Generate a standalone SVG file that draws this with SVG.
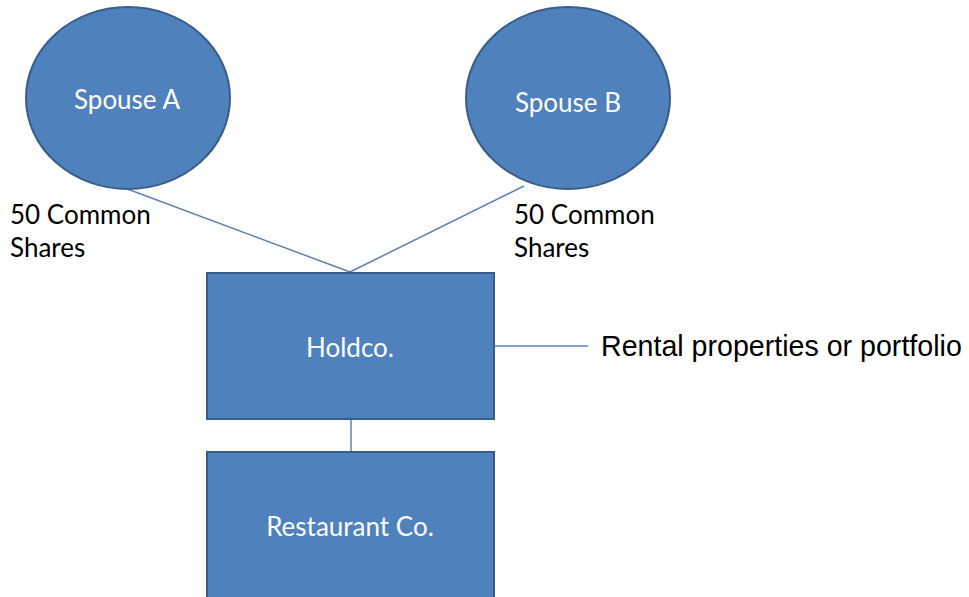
<svg xmlns="http://www.w3.org/2000/svg" width="969" height="597" viewBox="0 0 969 597">
  <style>
    .shape { fill: #4f81bd; stroke: #385d8a; stroke-width: 2; }
    .inner { font-family: Lato, "Open Sans", "Liberation Sans", sans-serif; font-size: 26px; fill: #ffffff; text-anchor: middle; }
    .note { font-family: Lato, "Open Sans", "Liberation Sans", sans-serif; font-size: 26px; fill: #000000; }
    .side { font-family: "Liberation Sans", Arial, sans-serif; font-size: 28.6px; fill: #000000; }
    .link { stroke: #5b82b5; stroke-width: 1.5; fill: none; }
  </style>
  <rect width="969" height="597" fill="#ffffff"/>

  <g id="connectors">
    <line class="link" x1="122" y1="187" x2="350" y2="272"/>
    <line class="link" x1="524" y1="186" x2="350" y2="272"/>
    <line class="link" x1="351" y1="419" x2="351" y2="452"/>
    <line class="link" x1="494" y1="346" x2="588" y2="346"/>
  </g>

  <g id="spouse-a">
    <ellipse class="shape" cx="128" cy="98" rx="102" ry="91"/>
    <text class="inner" x="127" y="109">Spouse A</text>
  </g>

  <g id="spouse-b">
    <ellipse class="shape" cx="568" cy="98" rx="102" ry="91"/>
    <text class="inner" x="568" y="112">Spouse B</text>
  </g>

  <g id="holdco">
    <rect class="shape" x="207" y="273" width="287" height="146"/>
    <text class="inner" x="350" y="357">Holdco.</text>
  </g>

  <g id="restaurant-co">
    <rect class="shape" x="207" y="452" width="287" height="160"/>
    <text class="inner" x="350" y="536">Restaurant Co.</text>
  </g>

  <g id="label-a">
    <text class="note" x="10" y="224">50 Common</text>
    <text class="note" x="10" y="257">Shares</text>
  </g>

  <g id="label-b">
    <text class="note" x="514" y="224">50 Common</text>
    <text class="note" x="514" y="257">Shares</text>
  </g>

  <g id="label-rental">
    <text class="side" x="601" y="356">Rental properties or portfolio</text>
  </g>
</svg>
